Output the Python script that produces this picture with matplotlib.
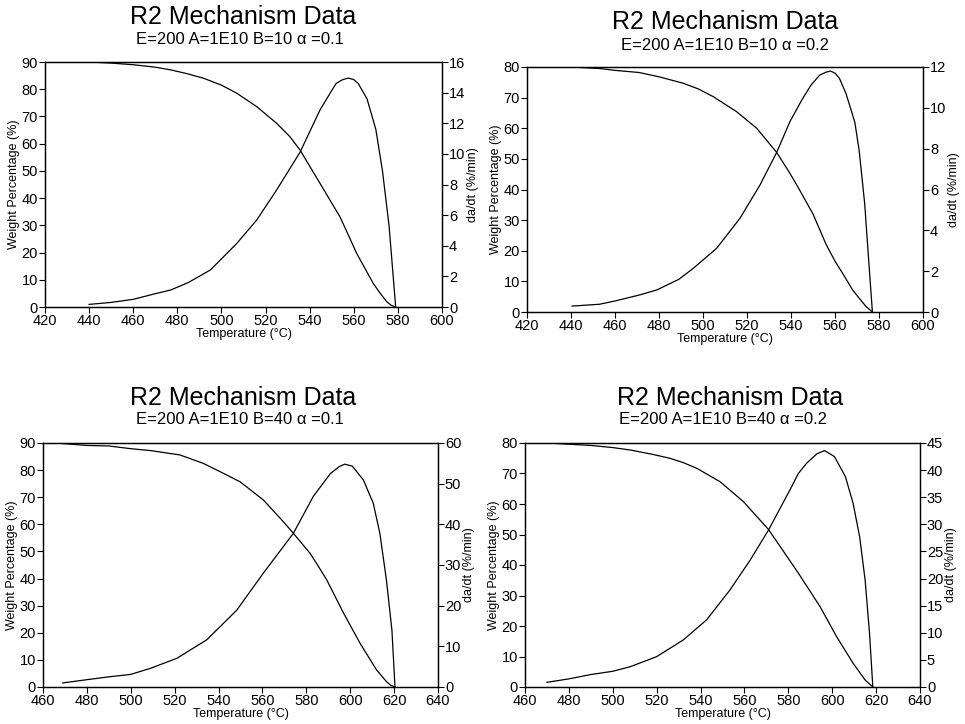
import matplotlib
matplotlib.use("Agg")
import matplotlib.pyplot as plt

plt.rcParams['font.family'] = ['Liberation Sans', 'DejaVu Sans']

W, H = 965, 724

# ---- data ----
# panel 1: B=10, alpha=0.1
t1_w = [440, 450, 460, 470, 477, 484, 492, 500, 507, 516, 525, 531, 535.6, 541, 544.7, 550, 553.7, 558, 561.3, 565, 568.8, 572, 575, 577, 579]
w1 = [90, 89.6, 89, 88.1, 87.1, 85.8, 84, 81.5, 78.5, 73.6, 67.5, 62.6, 57.7, 50.4, 45.4, 38.2, 33.2, 25.6, 19.7, 14.3, 8.7, 5, 1.9, 0.6, 0]
t1_r = [440, 450, 460, 470, 477, 485, 495, 507, 516, 525, 535.6, 544.7, 549, 552, 555, 557.5, 560, 562, 566, 570, 573, 576, 579]
r1 = [0.17, 0.3, 0.5, 0.87, 1.11, 1.6, 2.42, 4.16, 5.68, 7.64, 10.1, 12.87, 13.9, 14.6, 14.85, 14.95, 14.85, 14.6, 13.6, 11.6, 8.9, 5.3, 0]

# panel 2: B=10, alpha=0.2
t2_w = [440, 453, 460, 471, 480, 491, 498, 504.7, 515.3, 524.4, 533.5, 539.5, 543, 550, 556, 560, 564, 568, 571, 574, 577]
w2 = [80, 79.5, 78.9, 78.2, 76.8, 74.7, 72.8, 70.3, 65.4, 60, 52.1, 45.3, 41, 32, 22, 16.6, 12, 7.2, 4.5, 1.9, 0]
t2_r = [440.5, 453, 460, 471, 479, 489, 495.6, 506.2, 516.8, 525.9, 533.5, 539.5, 545, 549, 553, 556, 558, 560, 562, 565, 569, 571, 573.5, 575, 577]
r2 = [0.29, 0.38, 0.54, 0.83, 1.08, 1.6, 2.14, 3.12, 4.59, 6.22, 7.82, 9.32, 10.4, 11.1, 11.6, 11.75, 11.8, 11.7, 11.45, 10.7, 9.3, 7.9, 5.3, 3.0, 0]

# panel 3: B=40, alpha=0.1
t3_w = [469, 480, 490, 500, 509, 522.4, 533, 541, 549.8, 560.4, 569.5, 574.1, 581.7, 585.5, 589.3, 597, 604.5, 612, 616.5, 618.5, 620.4]
w3 = [89.8, 89.1, 88.9, 87.9, 87.2, 85.6, 82.5, 79.3, 75.7, 69, 61, 56.7, 49.3, 44.5, 39.5, 27.2, 16.1, 6.3, 2.0, 0.6, 0]
t3_r = [469, 480, 490, 500, 509, 521, 534.6, 541, 548.3, 560.4, 574.1, 583.2, 591, 595, 597.5, 601, 606, 610.5, 613.5, 616.5, 619, 620.4]
r3 = [1.0, 1.8, 2.5, 3.1, 4.6, 7.05, 11.6, 15.0, 18.9, 28.0, 37.8, 46.9, 52.5, 54.2, 54.8, 54.3, 50.9, 45.2, 37.8, 26.3, 14.0, 0]

# panel 4: B=40, alpha=0.2
t4_w = [470, 480, 490, 500, 508, 518, 526, 532, 538.3, 548.9, 559.5, 570.9, 579, 584.6, 594.5, 602, 609.5, 615, 618.5]
w4 = [80, 79.6, 79.2, 78.5, 77.7, 76.3, 75, 73.6, 71.7, 67.3, 60.8, 51.7, 43.2, 37.3, 26.3, 16.5, 7.8, 2.3, 0]
t4_r = [470, 480, 490, 500, 508, 520, 532.2, 542.8, 553.4, 562.6, 570.9, 580.8, 584.6, 588.4, 593, 596.5, 601, 606, 609.5, 612.5, 615, 617, 618.5]
r4 = [0.86, 1.5, 2.3, 2.9, 3.75, 5.6, 8.7, 12.4, 17.9, 23.4, 28.9, 36.4, 39.4, 41.3, 43.0, 43.6, 42.5, 38.8, 33.9, 27.7, 19.7, 9.9, 0]

subtitles = ["E=200 A=1E10 B=10 \u03b1 =0.1", "E=200 A=1E10 B=10 \u03b1 =0.2",
             "E=200 A=1E10 B=40 \u03b1 =0.1", "E=200 A=1E10 B=40 \u03b1 =0.2"]

fig = plt.figure(figsize=(W / 100, H / 100), dpi=100)


def panel(box, title_xy, sub_xy, subtitle, tw, w, tr, r, xlim, wmax, rmax, rstep):
    l, r_, t, b = box
    ax = fig.add_axes([l / W, 1 - b / H, (r_ - l) / W, (b - t) / H])
    ax.plot(tw, w, color="black", lw=0.9)
    ax.set_xlim(*xlim)
    ax.set_ylim(0, wmax)
    ax.set_xticks(range(xlim[0], xlim[1] + 1, 20))
    ax.set_yticks(range(0, wmax + 1, 10))
    ax.set_xlabel("Temperature (\u00b0C)", fontsize=9, labelpad=0)
    ax.set_ylabel("Weight Percentage (%)", fontsize=9, labelpad=1)
    ax.tick_params(labelsize=10.5, length=4, width=0.8, pad=1)
    ax2 = ax.twinx()
    ax2.plot(tr, r, color="black", lw=0.9)
    ax2.set_ylim(0, rmax)
    ax2.set_yticks(range(0, rmax + 1, rstep))
    ax2.set_ylabel("da/dt (%/min)", fontsize=9, labelpad=1)
    ax2.tick_params(labelsize=10.5, length=4, width=0.8, pad=1)
    for a in (ax, ax2):
        for s in a.spines.values():
            s.set_linewidth(0.9)
    fig.text(title_xy[0] / W, 1 - title_xy[1] / H, "R2 Mechanism Data",
             fontsize=18, ha="center", va="center")
    fig.text(sub_xy[0] / W, 1 - sub_xy[1] / H, subtitle,
             fontsize=12, ha="center", va="center")


panel((45, 442, 62, 307), (243, 17), (240, 40), subtitles[0], t1_w, w1, t1_r, r1, (420, 600), 90, 16, 2)
panel((527, 923, 67, 312), (725, 22), (725, 45), subtitles[1], t2_w, w2, t2_r, r2, (420, 600), 80, 12, 2)
panel((43, 438, 443, 687), (243, 398), (240, 420), subtitles[2], t3_w, w3, t3_r, r3, (460, 640), 90, 60, 10)
panel((525, 920, 443, 687), (730, 398), (723, 420), subtitles[3], t4_w, w4, t4_r, r4, (460, 640), 80, 45, 5)

fig.savefig("out.png", dpi=100)
